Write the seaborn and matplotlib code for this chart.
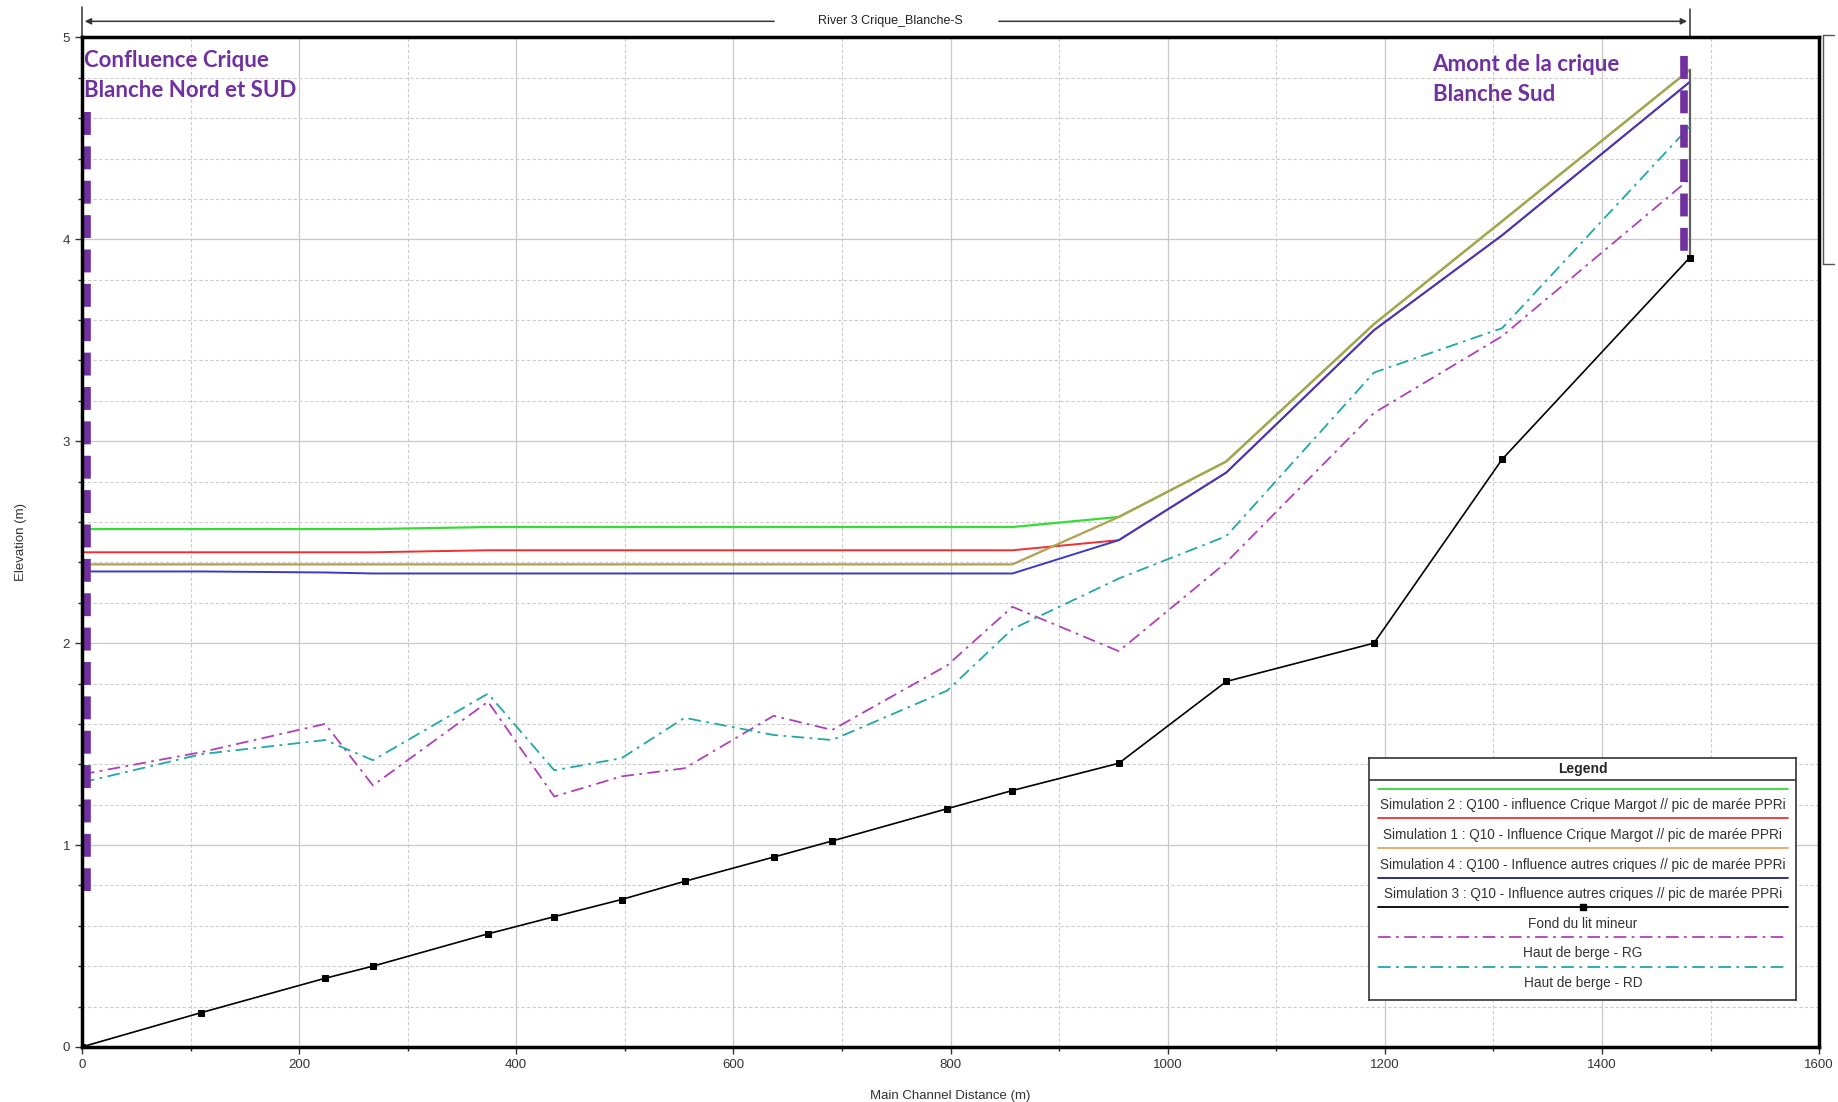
import pandas as pd
import matplotlib.pyplot as plt
import seaborn as sns
from matplotlib.lines import Line2D
from matplotlib.ticker import MultipleLocator
import matplotlib.transforms as mtransforms

#%%
# values (m)

dist = [0, 110, 224, 268, 374, 435, 497, 555, 637, 691, 797, 857, 955, 1054, 1190, 1308, 1481]

fond = [0, 0.17, 0.34, 0.40, 0.56, 0.645, 0.73, 0.82, 0.94, 1.02, 1.18, 1.27, 1.405, 1.81, 2.00, 2.91, 3.91]
berge_rg = [1.35, 1.46, 1.60, 1.295, 1.71, 1.24, 1.34, 1.38, 1.64, 1.57, 1.89, 2.18, 1.96, 2.40, 3.14, 3.52, 4.30]
berge_rd = [1.31, 1.45, 1.52, 1.42, 1.75, 1.37, 1.43, 1.63, 1.545, 1.52, 1.765, 2.07, 2.32, 2.53, 3.34, 3.56, 4.56]

sim4 = [2.39, 2.39, 2.39, 2.39, 2.39, 2.39, 2.39, 2.39, 2.39, 2.39, 2.39, 2.39, 2.625, 2.90, 3.58, 4.09, 4.84]
sim3 = [2.355, 2.355, 2.35, 2.345, 2.345, 2.345, 2.345, 2.345, 2.345, 2.345, 2.345, 2.345, 2.51, 2.845, 3.55, 4.02, 4.78]
sim2 = [2.565, 2.565, 2.565, 2.565, 2.575, 2.575, 2.575, 2.575, 2.575, 2.575, 2.575, 2.575, 2.625, 2.90, 3.58, 4.09, 4.84]
sim1 = [2.45, 2.45, 2.45, 2.45, 2.46, 2.46, 2.46, 2.46, 2.46, 2.46, 2.46, 2.46, 2.51, 2.845, 3.55, 4.02, 4.78]

# purple markers of the two ends of the reach
left_mark_x = [5, 5]
left_mark_y = [4.63, 0.77]
right_mark_x = [1476, 1476]
right_mark_y = [4.91, 3.94]

lbl_sim2 = 'Simulation 2 : Q100 - influence Crique Margot // pic de marée PPRi'
lbl_sim1 = 'Simulation 1 : Q10 - Influence Crique Margot // pic de marée PPRi'
lbl_sim4 = 'Simulation 4 : Q100 - Influence autres criques // pic de marée PPRi'
lbl_sim3 = 'Simulation 3 : Q10 - Influence autres criques // pic de marée PPRi'
lbl_fond = 'Fond du lit mineur'
lbl_rg = 'Haut de berge - RG'
lbl_rd = 'Haut de berge - RD'

df = pd.DataFrame({'dist': dist, 'fond': fond, 'rg': berge_rg, 'rd': berge_rd,
                   'sim1': sim1, 'sim2': sim2, 'sim3': sim3, 'sim4': sim4})

#%%

sns.set_style('white')
plt.rcParams['font.family'] = ['Liberation Sans', 'DejaVu Sans']

fig = plt.figure(figsize=(18.38, 11.02), dpi=100)
ax = fig.add_axes([0.0446, 0.050, 0.9451, 0.916])

green = '#33dd33'
red = '#ee3030'
olive = '#b0a050'
blue = '#3a3ac8'
purple_dd = '#b040b8'
cyan_dd = '#20a8a8'
dashdot = (0, (7, 3, 1.5, 3))

# water lines
sns.lineplot(data=df, x='dist', y='sim2', ax=ax, color=green, lw=1.6, estimator=None)
sns.lineplot(data=df, x='dist', y='sim1', ax=ax, color=red, lw=1.4, estimator=None)
sns.lineplot(data=df, x='dist', y='sim4', ax=ax, color=olive, lw=1.6, estimator=None)
sns.lineplot(data=df, x='dist', y='sim3', ax=ax, color=blue, lw=1.4, estimator=None)

# end cross section
ax.plot([dist[-1], dist[-1]], [fond[-1], sim4[-1]], color='#606060', lw=1.6)

# banks and bed
sns.lineplot(data=df, x='dist', y='rg', ax=ax, color=purple_dd, lw=1.3,
             linestyle=dashdot, estimator=None)
sns.lineplot(data=df, x='dist', y='rd', ax=ax, color=cyan_dd, lw=1.3,
             linestyle=dashdot, estimator=None)
sns.lineplot(data=df, x='dist', y='fond', ax=ax, color='black', lw=1.2,
             marker='s', markersize=5, markeredgecolor='black', estimator=None)

# purple dashed annotations
ax.plot(left_mark_x, left_mark_y, color='#7030a0', lw=5.5, linestyle=(0, (3.0, 1.5)))
ax.plot(right_mark_x, right_mark_y, color='#7030a0', lw=5.5, linestyle=(0, (3.0, 1.5)))

ax.text(2, 4.94, 'Confluence Crique\nBlanche Nord et SUD', color='#7030a0', fontsize=16,
        fontweight='bold', family=['Lato', 'DejaVu Sans'], va='top', ha='left', linespacing=1.55)
ax.text(1244, 4.92, 'Amont de la crique\nBlanche Sud', color='#7030a0', fontsize=16,
        fontweight='bold', family=['Lato', 'DejaVu Sans'], va='top', ha='left', linespacing=1.55)

#%%
# axes look

ax.set_xlim(0, 1600)
ax.set_ylim(0, 5)
ax.xaxis.set_major_locator(MultipleLocator(200))
ax.xaxis.set_minor_locator(MultipleLocator(100))
ax.yaxis.set_major_locator(MultipleLocator(1))
ax.yaxis.set_minor_locator(MultipleLocator(0.2))
ax.grid(which='major', color='#c8c8c8', lw=0.9, ls='-')
ax.grid(which='minor', color='#cccccc', lw=0.8, ls=(0, (3, 2)))
ax.tick_params(which='major', direction='out', length=5, width=1, labelsize=9.5, colors='#333333',
               left=True, bottom=True)
ax.tick_params(which='minor', direction='out', length=3, width=1, left=True, bottom=True)
for s in ax.spines.values():
    s.set_linewidth(2.5)
    s.set_color('black')
ax.set_xlabel('Main Channel Distance (m)', fontsize=9.5, color='#333333', labelpad=14)
ax.set_ylabel('Elevation (m)', fontsize=9.5, color='#333333', labelpad=26)

# reach arrow on top
trans = mtransforms.blended_transform_factory(ax.transData, ax.transAxes)
ax.annotate('', xy=(0, 1.016), xytext=(640, 1.016), xycoords=trans, textcoords=trans,
            arrowprops=dict(arrowstyle='-|>', color='#333333', lw=1.1, mutation_scale=9),
            annotation_clip=False)
ax.annotate('', xy=(1481, 1.016), xytext=(842, 1.016), xycoords=trans, textcoords=trans,
            arrowprops=dict(arrowstyle='-|>', color='#333333', lw=1.1, mutation_scale=9),
            annotation_clip=False)
ax.text(745, 1.016, 'River 3 Crique_Blanche-S', transform=trans, ha='center', va='center',
        fontsize=9, color='#222222')
ax.plot([1481, 1481], [1.0, 1.028], transform=trans, color='#333333', lw=1.1, clip_on=False)
ax.plot([0, 0], [1.0, 1.03], transform=trans, color='#333333', lw=1.1, clip_on=False)

# cut-off box on the right edge
fig.add_artist(Line2D([0.992, 0.992], [0.968, 0.760], color='#555555', lw=1))
fig.add_artist(Line2D([0.992, 0.998], [0.968, 0.968], color='#555555', lw=1))
fig.add_artist(Line2D([0.992, 0.998], [0.760, 0.760], color='#555555', lw=1))

#%%
# HEC-RAS style legend box (line above each label)

leg = ax.inset_axes([0.741, 0.046, 0.246, 0.240])
leg.set_xlim(0, 1)
leg.set_ylim(0, 1)
leg.set_xticks([])
leg.set_yticks([])
leg.set_facecolor('white')
for s in leg.spines.values():
    s.set_linewidth(1.2)
    s.set_color('#333333')
leg.text(0.5, 0.954, 'Legend', ha='center', va='center', fontsize=10, fontweight='bold')
leg.plot([0, 1], [0.908, 0.908], color='#333333', lw=1.2)

entries = [(lbl_sim2, green, '-', None), (lbl_sim1, red, '-', None),
           (lbl_sim4, '#e8a060', '-', None), (lbl_sim3, '#202080', '-', None),
           (lbl_fond, 'black', '-', 's'), (lbl_rg, purple_dd, dashdot, None),
           (lbl_rd, cyan_dd, dashdot, None)]
for i, (lab, col, ls, mk) in enumerate(entries):
    yl = 1 - (26 + 25.2 * i) / 206
    yt = yl - 0.068
    leg.plot([0.02, 0.98], [yl, yl], color=col, lw=1.3, linestyle=ls)
    if mk:
        leg.plot([0.5], [yl], marker=mk, color=col, markersize=5)
    leg.text(0.5, yt, lab, ha='center', va='center', fontsize=9.8, color='#333333')

plt.savefig('out.png', dpi=100)
